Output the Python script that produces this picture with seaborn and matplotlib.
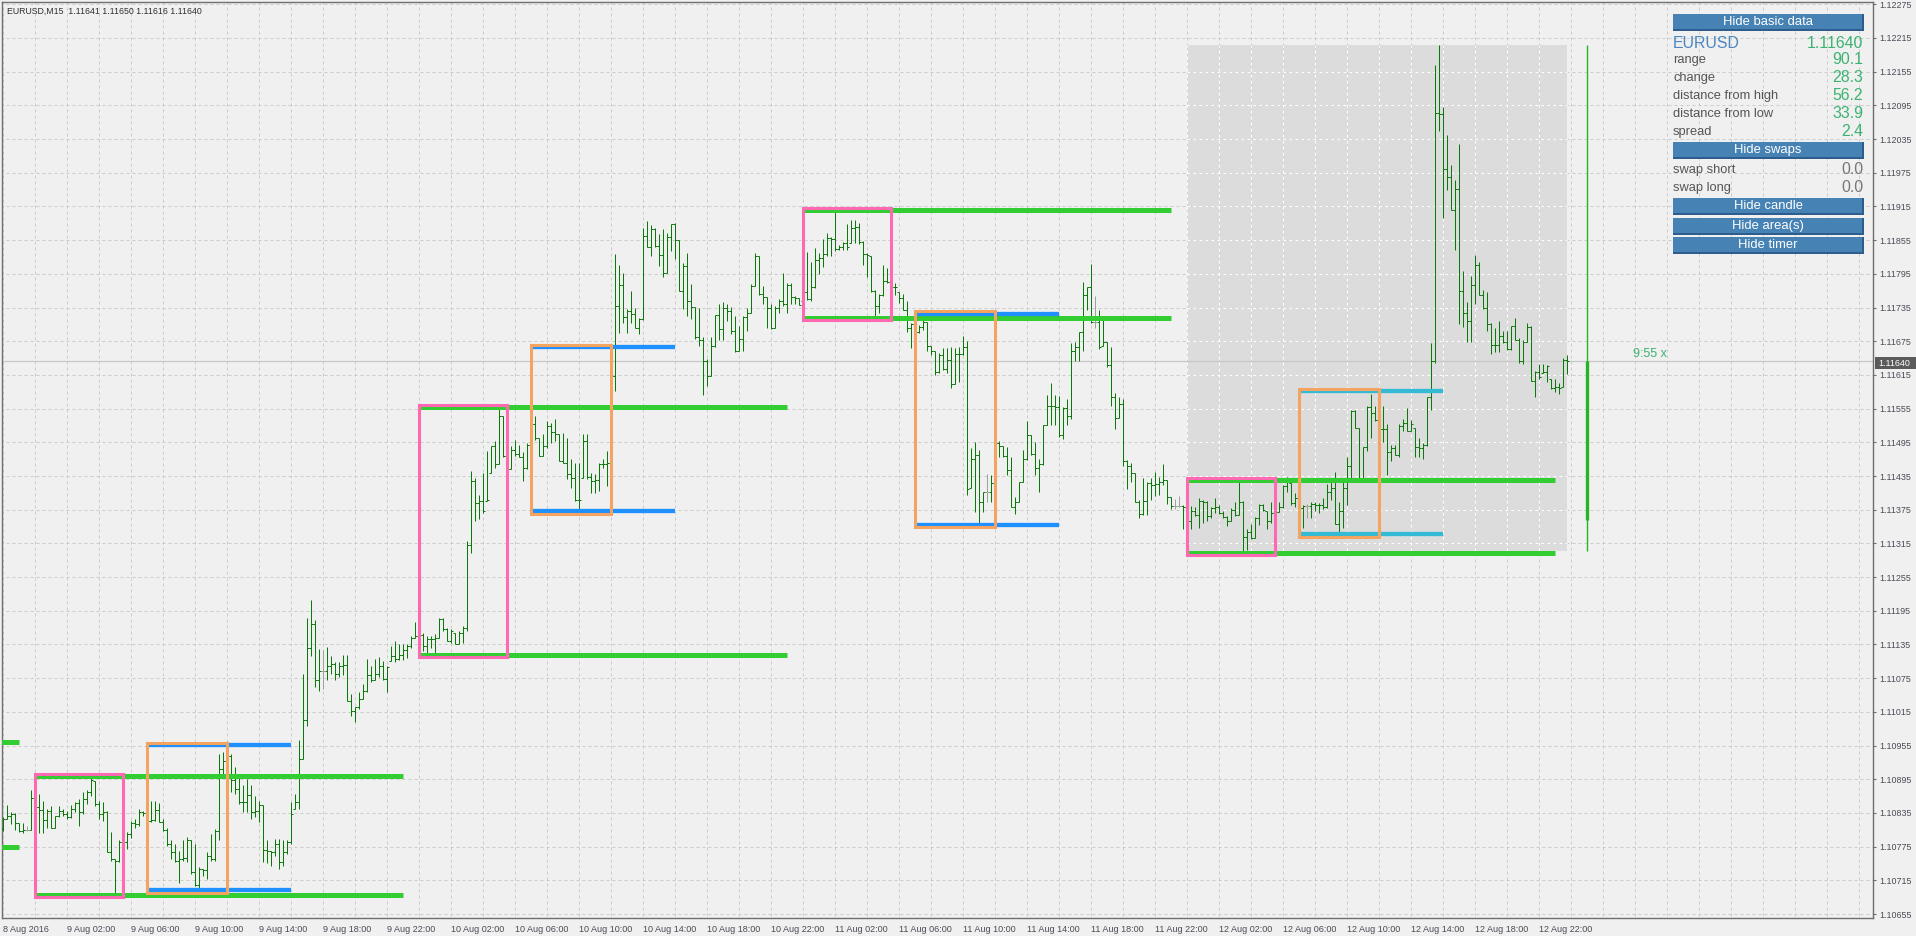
import numpy as np
import matplotlib
matplotlib.use("Agg")
import matplotlib.pyplot as plt
from matplotlib.patches import Rectangle
from matplotlib.transforms import ScaledTranslation
import seaborn as sns

# header of the chart window
symbol = "EURUSD"
timeframe = "M15"
last_ohlc = ["1.11641", "1.11650", "1.11616", "1.11640"]

# M15 bars from 8 Aug 2016 22:00, prices in points above 1.10000 (1640 -> 1.11640)
first_open = 806
highs = [
    827, 849, 836, 834, 817, 817, 811, 875, 864, 869, 857, 842, 848, 830, 847, 842, 839, 849, 854, 859,
    872, 875, 899, 891, 857, 854, 839, 801, 753, 786, 786, 801, 821, 824, 842, 839, 857, 857, 857, 853,
    824, 809, 786, 780, 768, 786, 793, 786, 780, 738, 736, 765, 798, 806, 940, 943, 940, 940, 916, 901,
    884, 896, 884, 866, 857, 849, 786, 768, 789, 789, 786, 786, 854, 869, 964, 1083, 1182, 1215, 1179, 1127,
    1126, 1130, 1115, 1103, 1103, 1116, 1116, 1047, 1023, 1050, 1065, 1109, 1097, 1109, 1112, 1106, 1097, 1133, 1142, 1135,
    1136, 1135, 1150, 1175, 1155, 1156, 1150, 1150, 1154, 1183, 1183, 1164, 1162, 1156, 1159, 1168, 1319, 1444, 1432, 1402,
    1441, 1480, 1488, 1497, 1556, 1542, 1471, 1488, 1500, 1491, 1477, 1494, 1535, 1542, 1503, 1509, 1533, 1530, 1536, 1509,
    1512, 1503, 1465, 1459, 1459, 1509, 1510, 1441, 1438, 1459, 1465, 1480, 1620, 1830, 1811, 1797, 1732, 1765, 1735, 1717,
    1877, 1889, 1882, 1876, 1866, 1874, 1867, 1883, 1886, 1855, 1815, 1833, 1777, 1736, 1735, 1682, 1643, 1682, 1722, 1741,
    1744, 1741, 1736, 1720, 1702, 1720, 1735, 1777, 1833, 1827, 1774, 1754, 1741, 1738, 1750, 1797, 1779, 1779, 1756, 1752,
    1765, 1834, 1816, 1841, 1832, 1857, 1867, 1861, 1910, 1847, 1851, 1883, 1891, 1891, 1885, 1853, 1832, 1826, 1767, 1760,
    1811, 1805, 1785, 1778, 1763, 1760, 1747, 1707, 1710, 1704, 1717, 1709, 1667, 1657, 1654, 1663, 1663, 1665, 1663, 1664,
    1685, 1675, 1484, 1496, 1481, 1407, 1438, 1437, 1495, 1497, 1489, 1487, 1468, 1398, 1425, 1481, 1533, 1508, 1495, 1466,
    1525, 1579, 1600, 1579, 1578, 1557, 1573, 1671, 1674, 1692, 1781, 1772, 1812, 1755, 1731, 1713, 1674, 1664, 1582, 1575,
    1573, 1463, 1459, 1440, 1392, 1431, 1425, 1431, 1443, 1434, 1456, 1428, 1398, 1394, 1400, 1383, 1383, 1381, 1379, 1395,
    1392, 1391, 1379, 1395, 1383, 1373, 1363, 1378, 1389, 1428, 1390, 1340, 1349, 1362, 1386, 1386, 1373, 1389, 1375, 1389,
    1419, 1433, 1422, 1404, 1395, 1383, 1385, 1389, 1389, 1387, 1395, 1421, 1427, 1442, 1389, 1426, 1469, 1552, 1552, 1521,
    1487, 1559, 1581, 1559, 1540, 1559, 1527, 1491, 1491, 1527, 1536, 1556, 1534, 1520, 1502, 1493, 1576, 1671, 2167, 2202,
    2093, 2043, 1988, 1963, 2026, 1800, 1745, 1791, 1829, 1816, 1766, 1762, 1708, 1699, 1711, 1693, 1694, 1703, 1717, 1680,
    1677, 1708, 1702, 1622, 1634, 1634, 1633, 1607, 1607, 1601, 1645, 1650,
]
lows = [
    802, 824, 815, 805, 801, 799, 803, 804, 836, 799, 799, 809, 808, 808, 828, 830, 825, 826, 836, 812,
    833, 851, 866, 848, 824, 820, 765, 750, 688, 747, 771, 771, 791, 809, 812, 830, 821, 818, 821, 818,
    803, 777, 753, 747, 711, 750, 747, 726, 705, 699, 723, 717, 750, 750, 786, 899, 896, 872, 869, 851,
    836, 836, 824, 827, 818, 747, 746, 741, 759, 736, 740, 762, 780, 842, 842, 931, 989, 1115, 1059, 1053,
    1055, 1071, 1083, 1071, 1077, 1080, 1035, 1007, 997, 1020, 1038, 1050, 1068, 1071, 1077, 1071, 1050, 1106, 1103, 1108,
    1108, 1111, 1129, 1147, 1141, 1124, 1115, 1129, 1120, 1147, 1159, 1141, 1138, 1135, 1135, 1138, 1159, 1298, 1355, 1358,
    1370, 1390, 1441, 1450, 1456, 1468, 1443, 1447, 1471, 1468, 1426, 1447, 1491, 1500, 1471, 1471, 1485, 1494, 1497, 1462,
    1459, 1429, 1414, 1390, 1376, 1432, 1429, 1405, 1405, 1408, 1450, 1417, 1450, 1586, 1690, 1708, 1690, 1708, 1698, 1687,
    1712, 1842, 1826, 1842, 1809, 1790, 1797, 1836, 1821, 1765, 1732, 1720, 1714, 1679, 1667, 1579, 1596, 1613, 1664, 1677,
    1677, 1711, 1687, 1655, 1658, 1658, 1693, 1726, 1774, 1758, 1741, 1698, 1696, 1699, 1725, 1738, 1725, 1741, 1741, 1739,
    1746, 1749, 1746, 1769, 1794, 1808, 1826, 1826, 1835, 1838, 1838, 1838, 1850, 1850, 1848, 1811, 1790, 1763, 1716, 1725,
    1756, 1779, 1768, 1757, 1743, 1731, 1692, 1663, 1689, 1689, 1695, 1657, 1651, 1615, 1618, 1624, 1618, 1592, 1598, 1603,
    1651, 1401, 1413, 1371, 1348, 1371, 1389, 1389, 1420, 1468, 1468, 1437, 1379, 1368, 1388, 1425, 1464, 1472, 1436, 1406,
    1455, 1525, 1525, 1525, 1505, 1501, 1525, 1537, 1640, 1640, 1657, 1731, 1707, 1699, 1662, 1666, 1630, 1560, 1519, 1538,
    1452, 1412, 1424, 1388, 1360, 1365, 1365, 1392, 1400, 1401, 1419, 1386, 1377, 1377, 1379, 1340, 1345, 1341, 1364, 1343,
    1352, 1355, 1361, 1370, 1368, 1361, 1346, 1355, 1364, 1365, 1301, 1303, 1323, 1325, 1348, 1373, 1340, 1352, 1365, 1371,
    1378, 1407, 1383, 1380, 1372, 1343, 1361, 1361, 1373, 1370, 1376, 1378, 1392, 1349, 1336, 1343, 1383, 1429, 1521, 1432,
    1432, 1479, 1502, 1533, 1510, 1496, 1436, 1461, 1472, 1469, 1515, 1515, 1515, 1469, 1469, 1466, 1489, 1552, 1637, 2050,
    1894, 1945, 1909, 1837, 1705, 1700, 1674, 1674, 1742, 1757, 1733, 1693, 1653, 1656, 1656, 1671, 1659, 1659, 1677, 1637,
    1634, 1674, 1604, 1576, 1607, 1619, 1602, 1590, 1585, 1581, 1594, 1616,
]
closes = [
    825, 830, 833, 817, 802, 805, 805, 861, 846, 841, 823, 839, 809, 829, 839, 833, 827, 842, 853, 836,
    860, 872, 893, 851, 833, 836, 766, 753, 749, 783, 784, 797, 817, 815, 836, 835, 821, 823, 840, 818,
    805, 780, 765, 750, 753, 754, 786, 730, 706, 735, 734, 759, 753, 803, 913, 928, 937, 893, 878, 854,
    855, 867, 836, 838, 849, 769, 768, 765, 780, 748, 766, 784, 833, 854, 931, 1001, 1128, 1172, 1072, 1088,
    1088, 1097, 1100, 1083, 1096, 1098, 1035, 1017, 1023, 1038, 1053, 1080, 1071, 1083, 1097, 1074, 1094, 1115, 1109, 1117,
    1126, 1132, 1147, 1150, 1151, 1132, 1144, 1145, 1147, 1180, 1162, 1141, 1159, 1136, 1156, 1165, 1313, 1426, 1387, 1390,
    1373, 1393, 1488, 1457, 1542, 1471, 1447, 1482, 1474, 1468, 1450, 1491, 1527, 1502, 1471, 1488, 1524, 1514, 1509, 1462,
    1459, 1438, 1432, 1392, 1393, 1497, 1433, 1426, 1427, 1457, 1456, 1458, 1613, 1738, 1776, 1718, 1729, 1723, 1699, 1714,
    1863, 1843, 1874, 1844, 1828, 1797, 1861, 1883, 1855, 1765, 1809, 1746, 1736, 1682, 1677, 1640, 1613, 1667, 1721, 1697,
    1735, 1728, 1693, 1658, 1679, 1718, 1726, 1774, 1827, 1760, 1753, 1735, 1699, 1734, 1746, 1741, 1776, 1754, 1752, 1740,
    1763, 1750, 1771, 1820, 1824, 1830, 1858, 1857, 1840, 1842, 1850, 1843, 1877, 1879, 1851, 1830, 1828, 1765, 1737, 1757,
    1782, 1781, 1772, 1771, 1752, 1731, 1699, 1705, 1692, 1701, 1710, 1667, 1658, 1620, 1651, 1626, 1642, 1598, 1652, 1653,
    1664, 1412, 1465, 1472, 1388, 1406, 1406, 1422, 1493, 1489, 1471, 1446, 1380, 1389, 1424, 1465, 1508, 1474, 1450, 1456,
    1525, 1560, 1559, 1557, 1508, 1556, 1542, 1658, 1665, 1691, 1758, 1771, 1709, 1709, 1664, 1674, 1632, 1575, 1539, 1563,
    1462, 1452, 1440, 1389, 1368, 1390, 1422, 1419, 1420, 1425, 1428, 1398, 1382, 1382, 1382, 1380, 1354, 1372, 1365, 1391,
    1389, 1364, 1378, 1380, 1370, 1362, 1355, 1375, 1365, 1389, 1327, 1336, 1325, 1361, 1383, 1375, 1354, 1370, 1371, 1380,
    1418, 1424, 1387, 1395, 1378, 1381, 1381, 1386, 1383, 1384, 1380, 1407, 1413, 1349, 1373, 1413, 1452, 1550, 1521, 1432,
    1487, 1558, 1547, 1534, 1518, 1519, 1478, 1484, 1472, 1524, 1530, 1516, 1528, 1487, 1485, 1490, 1575, 1639, 2081, 2079,
    1982, 1968, 1909, 1946, 1765, 1725, 1711, 1776, 1811, 1758, 1735, 1706, 1668, 1669, 1684, 1673, 1661, 1702, 1678, 1639,
    1674, 1700, 1604, 1620, 1612, 1621, 1631, 1591, 1594, 1592, 1641, 1640,
]

# time axis: one label every 16 bars (4 hours)
time_labels = [
    "8 Aug 2016", "9 Aug 02:00", "9 Aug 06:00", "9 Aug 10:00", "9 Aug 14:00", "9 Aug 18:00", "9 Aug 22:00",
    "10 Aug 02:00", "10 Aug 06:00", "10 Aug 10:00", "10 Aug 14:00", "10 Aug 18:00", "10 Aug 22:00",
    "11 Aug 02:00", "11 Aug 06:00", "11 Aug 10:00", "11 Aug 14:00", "11 Aug 18:00", "11 Aug 22:00",
    "12 Aug 02:00", "12 Aug 06:00", "12 Aug 10:00", "12 Aug 14:00", "12 Aug 18:00", "12 Aug 22:00",
]
price_ticks = [655, 715, 775, 835, 895, 955, 1015, 1075, 1135, 1195, 1255, 1315, 1375, 1435,
               1495, 1555, 1615, 1675, 1735, 1795, 1855, 1915, 1975, 2035, 2095, 2155, 2215, 2275]

# session boxes (bar index of start) and their levels
asia_start = [8, 104, 200, 296]
asia_high = [900, 1557, 1909, 1427]
asia_low = [689, 1116, 1716, 1298]
london_start = [36, 132, 228, 324]
london_high = [956, 1664, 1724, 1586]
london_low = [697, 1372, 1348, 1331]
orange_ext_start = [36, 228]
orange_ext_level = [691, 1719]
prev_levels = [961, 774]

# current day
day_start = 296
day_open, day_high, day_low, day_close = 1357, 2202, 1301, 1640
timer_text = "9:55 x"

# info panel
info_labels = ["range", "change", "distance from high", "distance from low", "spread"]
info_values = ["90.1", "28.3", "56.2", "33.9", "2.4"]
swap_labels = ["swap short", "swap long"]
swap_values = ["0.0", "0.0"]
button_labels = ["Hide basic data", "Hide swaps", "Hide candle", "Hide area(s)", "Hide timer"]

# ---------------------------------------------------------------------------
sns.set_style("white")
plt.rcParams["font.family"] = ["Liberation Sans", "DejaVu Sans"]

W, H = 1916, 936
BG = "#f0f0f0"
TXT = "#4a4a55"
BAR = "#0a780a"
GREEN = "#32cd32"
ONE_PX = 0.72

fig = plt.figure(figsize=(W / 100, H / 100), dpi=100, facecolor=BG)
ax = fig.add_axes([2 / W, 18 / H, 1871 / W, 916 / H])
ax.set_facecolor(BG)
ax.set_xlim(-0.375, 467.375)
ax.set_ylim(647.9, 2279.1)

hi = np.array(highs)
lo = np.array(lows)
cl = np.array(closes)
idx = np.arange(len(cl))
op = np.clip(np.r_[first_open, cl[:-1]], lo, hi)
colors = np.where(op == cl, "#a0a0a0", BAR)

# grid
grid_x = np.arange(0, 468, 8)
dash = (0, (3, 3))
ax.vlines(grid_x, 640, 2290, colors="#cbcbcb", lw=ONE_PX, linestyles=dash, zorder=0.5)
ax.hlines(price_ticks, -1, 470, colors="#cbcbcb", lw=ONE_PX, linestyles=dash, zorder=0.5)

# current day area
last = idx[-1]
ax.add_patch(Rectangle((day_start, day_low), last - day_start, day_high - day_low,
                       fc="#dcdcdc", ec="none", zorder=0.4))
gx = grid_x[(grid_x >= day_start) & (grid_x <= last)]
gy = [p for p in price_ticks if day_low <= p <= day_high]
ax.vlines(gx, day_low, day_high, colors="white", lw=ONE_PX, linestyles=dash, zorder=0.6)
ax.hlines(gy, day_start, last, colors="white", lw=ONE_PX, linestyles=dash, zorder=0.6)

ax.axhline(day_close, color="#c8c8c8", lw=0.9, zorder=0.7)

# OHLC bars
ax.vlines(idx, lo, hi, colors=colors, lw=ONE_PX, zorder=3)
ax.hlines(op, idx - 0.5, idx, colors=colors, lw=ONE_PX, zorder=3)
ax.hlines(cl, idx, idx + 0.5, colors=colors, lw=ONE_PX, zorder=3)

# levels and boxes
ax.hlines(prev_levels, -1, 4, colors=GREEN, lw=3.6, zorder=4, capstyle="butt")
for s, h, l in zip(asia_start, asia_high, asia_low):
    ax.hlines([h, l], s, s + 92, colors=GREEN, lw=3.6, zorder=4, capstyle="butt")
    ax.add_patch(Rectangle((s, l - 4), 22, h - l + 8, fill=False, ec="#ff69b4",
                           lw=2.2, zorder=5, joinstyle="miter"))
for s, lev in zip(orange_ext_start, orange_ext_level):
    ax.hlines(lev - 4, s, s + 36, colors="#f4a460", lw=2.0, zorder=3.9, capstyle="butt")
for k, (s, h, l) in enumerate(zip(london_start, london_high, london_low)):
    c = "#33bbd6" if k == len(london_start) - 1 else "#1e90ff"
    ax.hlines([h, l], s, s + 36, colors=c, lw=3.1, zorder=4, capstyle="butt")
    ax.add_patch(Rectangle((s, l - 4), 20, h - l + 8, fill=False, ec="#f4a460",
                           lw=2.2, zorder=5, joinstyle="miter"))

# daily candle and timer
cx = last + 5
ax.vlines(cx, day_low, day_high, colors="#25b525", lw=1.0, zorder=4)
ax.vlines(cx, min(day_open, day_close), max(day_open, day_close), colors="#25b525", lw=2.4, zorder=4)
ax.text(cx + 11.4, day_close + 12, timer_text, color="#3cb371", fontsize=9.0, ha="left", va="center")

# axes styling
for sp in ax.spines.values():
    sp.set_color("#6e6e6e")
    sp.set_linewidth(1.0)
ax.set_xticks(np.arange(len(time_labels)) * 16)
ax.set_xticklabels(time_labels, ha="left")
offset = ScaledTranslation(2 / 100, 0, fig.dpi_scale_trans)
for lab in ax.get_xticklabels():
    lab.set_transform(lab.get_transform() + offset)
ax.yaxis.tick_right()
ax.set_yticks(price_ticks)
ax.set_yticklabels([f"{1.1 + p / 100000:.5f}" for p in price_ticks])
ax.tick_params(axis="x", direction="out", length=4.3, width=0.8, color="#6e6e6e",
               pad=0.5, labelsize=6.5, labelcolor=TXT)
ax.tick_params(axis="y", direction="out", length=2.2, width=0.8, color="#6e6e6e",
               pad=2.2, labelsize=6.4, labelcolor=TXT)

# figure-level annotations (pixel coordinates)
def fx(x):
    return x / W


def fy(y):
    return 1 - y / H


fig.text(fx(7), fy(11), f"{symbol},{timeframe}  " + " ".join(last_ohlc),
         fontsize=6.3, color="#303030", va="center")

fig.add_artist(Rectangle((fx(1875), fy(369)), 41 / W, 12 / H, transform=fig.transFigure,
                         fc="#5b5b5b", ec="none"))
fig.text(fx(1878), fy(363), last_ohlc[3], fontsize=6.4, color="white", va="center")

button_tops = [14, 142, 198, 218, 237]
for label, top in zip(button_labels, button_tops):
    fig.add_artist(Rectangle((fx(1673), fy(top + 17)), 191 / W, 17 / H, transform=fig.transFigure,
                             fc="#2d5d8c", ec="none"))
    fig.add_artist(Rectangle((fx(1673), fy(top + 15)), 189 / W, 15 / H, transform=fig.transFigure,
                             fc="#4682b4", ec="none"))
    fig.text(fx(1768), fy(top + 8), label, fontsize=9.4, color="white", ha="center", va="center")

fig.text(fx(1673), fy(43), symbol, fontsize=11.4, color="#4a86c0", va="center")
fig.text(fx(1863), fy(43), last_ohlc[3], fontsize=11.4, color="#3cb371", va="center", ha="right")
for k, (lab, val) in enumerate(zip(info_labels, info_values)):
    y = 60 + k * 17.9
    fig.text(fx(1673), fy(y), lab, fontsize=9.3, color="#555555", va="center")
    fig.text(fx(1863), fy(y), val, fontsize=11.4, color="#3cb371", va="center", ha="right")
for k, (lab, val) in enumerate(zip(swap_labels, swap_values)):
    y = 169.5 + k * 18.3
    fig.text(fx(1673), fy(y), lab, fontsize=9.3, color="#555555", va="center")
    fig.text(fx(1863), fy(y), val, fontsize=11.4, color="#777777", va="center", ha="right")

fig.savefig("out.png", dpi=100, facecolor=BG)
